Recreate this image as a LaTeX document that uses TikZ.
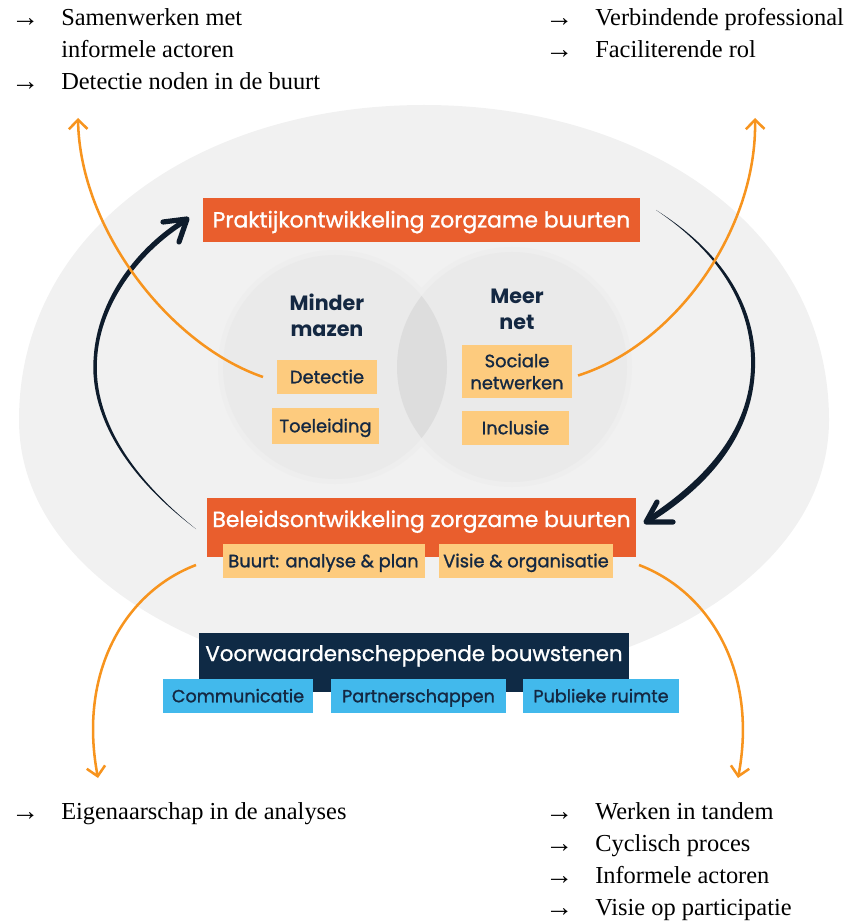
\documentclass[tikz,border=0pt]{standalone}
\usepackage{fontspec}
\setmainfont{Liberation Serif}
\newfontfamily\boxfont{Poppins}[BoldFont=Poppins, BoldFeatures={FakeBold=1.2}]
\newfontfamily\headfont{Poppins}
\usetikzlibrary{arrows.meta,calc}
\definecolor{cOrange}{HTML}{E95E2D}
\definecolor{cYellow}{HTML}{FDCB7E}
\definecolor{cBlue}{HTML}{42B9EC}
\definecolor{cNavy}{HTML}{0F2A45}
\definecolor{cText}{HTML}{142842}
\definecolor{cArrow}{HTML}{F7941E}
\definecolor{cBlack}{HTML}{0E1C2C}
\definecolor{cEll}{HTML}{F1F1F1}
\definecolor{cHalo}{HTML}{EEEEEE}
\definecolor{cCirc}{HTML}{EAEAEA}
\definecolor{cLens}{HTML}{DDDDDD}
\newdimen\px \px=0.75pt
\tikzset{
  obox/.style={fill=cOrange, text=white, inner sep=0pt, outer sep=0pt,
    font=\boxfont\bfseries\fontsize{16.4pt}{19pt}\selectfont},
  ybase/.style={fill=cYellow, text=cText, inner sep=0pt, outer sep=0pt, align=center,
    font=\boxfont\bfseries\fontsize{13.4pt}{16.5pt}\selectfont},
  ybox/.style={ybase, text height=9.4pt, text depth=0pt},
  bbox/.style={fill=cBlue, text=cText, inner sep=0pt, outer sep=0pt,
    font=\boxfont\bfseries\fontsize{13.2pt}{16pt}\selectfont, text height=9.4pt, text depth=0pt},
  head/.style={text=cText, inner sep=0pt, align=center,
    font=\headfont\bfseries\fontsize{15.5pt}{19.5pt}\selectfont},
  serif/.style={inner sep=0pt, anchor=base west, text=black,
    font=\fontsize{18.3pt}{24pt}\selectfont},
  bullet/.style={inner sep=0pt, anchor=base west, text=black,
    font=\fontsize{21pt}{24pt}\selectfont},
  oarrow/.style={draw=cArrow, line width=1.9pt,
    -{Straight Barb[length=7pt,width=14pt,line width=1.9pt]}},
  bhead/.style={draw=cBlack, line width=3.9pt, line cap=round, line join=round}
}
\begin{document}
\begin{tikzpicture}[x=0.75pt,y=-0.75pt]
\useasboundingbox (0,0) rectangle (848,923);
% big background shape
\fill[cEll] (19,420) .. controls (19,230) and (200,105) .. (424,105)
  .. controls (648,105) and (829,230) .. (829,420)
  .. controls (829,578.4) and (626.5,684) .. (424,684)
  .. controls (221.5,684) and (19,578.4) .. (19,420) -- cycle;
% two circles
\fill[cHalo] (335,367) circle (117);
\fill[cHalo] (512,367) circle (120);
\fill[cCirc] (335,367) circle (112);
\fill[cCirc] (512,367) circle (115);
\begin{scope}
  \clip (335,367) circle (112);
  \fill[cLens] (512,367) circle (115);
\end{scope}

% top box
\node[obox, minimum width=437\px, minimum height=44\px, text height=11.2pt, text depth=0pt]
  (praktijk) at (421.5,220) {Praktijkontwikkeling zorgzame buurten};

% circle headings
\node[head, anchor=north] (minder) at (327,294) {Minder\\mazen};
\node[head, anchor=north] (meer) at (517,289) {Meer\\net};

% yellow boxes in circles
\node[ybox, minimum width=100\px, minimum height=34\px] (detectie) at (327,377) {Detectie};
\node[ybox, minimum width=107\px, minimum height=36\px] (toeleiding) at (325.5,426) {Toeleiding};
\node[ybase, minimum width=110\px, minimum height=53\px] (sociale) at (517,371.5) {Sociale\\netwerken};
\node[ybox, minimum width=107\px, minimum height=34\px] (inclusie) at (515.5,428) {Inclusie};

% beleid box
\node[obox, anchor=north, minimum width=429\px, text height=29\px, text depth=30\px]
  (beleids) at (421.5,498) {Beleidsontwikkeling zorgzame buurten};
\node[ybox, minimum width=202\px, minimum height=34\px] (buurt) at (323.5,561) {Buurt: analyse \& plan};
\node[ybox, minimum width=174\px, minimum height=34\px] (visie) at (526,561) {Visie \& organisatie};

% voorwaarden
\node[obox, fill=cNavy, anchor=north, minimum width=430\px, text height=28\px, text depth=31\px,
  font=\boxfont\bfseries\fontsize{16pt}{19pt}\selectfont]
  (voorw) at (414,633) {Voorwaardenscheppende bouwstenen};
\node[bbox, minimum width=150\px, minimum height=34\px] (comm) at (238,696) {Communicatie};
\node[bbox, minimum width=175\px, minimum height=34\px] (partner) at (418.5,696) {Partnerschappen};
\node[bbox, minimum width=156\px, minimum height=34\px] (publiek) at (601,696) {Publieke ruimte};

% black cycle arrows (tapered)
\coordinate (tipL) at ($(praktijk.west)+(-16,-1)$);
\coordinate (tipR) at ($(beleids.east)+(10,-5.5)$);
\coordinate (startL) at ($(beleids.west)+(-11,1.5)$);
\coordinate (startR) at ($(praktijk.east)+(16,-10)$);
\fill[cBlack] (startL) .. controls (119,471) and (90.5,410) .. (93.5,360)
  .. controls (96.5,298) and (139,246) .. (183,219)
  -- (185.5,223.5) .. controls (141.5,251) and (100,302) .. (97,360)
  .. controls (94,410) and (121,469) .. (startL) -- cycle;
\draw[bhead] ($(tipL)+(-24,3)$) -- (tipL) -- ($(tipL)+(-8,23)$);
\fill[cBlack] (startR) .. controls (726,254) and (757,310) .. (755,368)
  .. controls (753,432) and (713,483) .. (651,522)
  -- (648,517) .. controls (709,477) and (749,428) .. (751,368)
  .. controls (753,311) and (724,256) .. (startR) -- cycle;
\draw[bhead] ($(tipR)+(11,-20)$) -- (tipR) -- ($(tipR)+(27,0)$);

% orange arrows
\coordinate (endTL) at (78,118);
\coordinate (endTR) at (755,118);
\coordinate (endBL) at (98,778);
\coordinate (endBR) at (738,778);
\draw[oarrow] ($(detectie.west)+(-14,0)$) .. controls (170,345) and (80,230) .. (endTL);
\draw[oarrow] ($(sociale.east)+(6,4)$) .. controls (675,345) and (757,230) .. (endTR);
\draw[oarrow] ($(beleids.south west)+(-11,8)$) .. controls (125,592) and (78,672) .. (endBL);
\draw[oarrow] ($(beleids.south east)+(3,8)$) .. controls (710,592) and (758,672) .. (endBR);

% text lists
\node[bullet] (a1) at (11,27) {→};
\node[serif] (t1) at (61,26) {Samenwerken met};
\node[serif] (t1b) at (61,58) {informele actoren};
\node[bullet] (a2) at (11,91) {→};
\node[serif] (t2) at (61,90) {Detectie noden in de buurt};

\node[bullet] (a3) at (545,27) {→};
\node[serif] (t3) at (595,26) {Verbindende professional};
\node[bullet] (a4) at (545,59) {→};
\node[serif] (t4) at (595,58) {Faciliterende rol};

\node[bullet] (a5) at (11,820) {→};
\node[serif] (t5) at (61,819) {Eigenaarschap in de analyses};

\node[bullet] (a6) at (545,820) {→};
\node[serif] (t6) at (595,819) {Werken in tandem};
\node[bullet] (a7) at (545,852) {→};
\node[serif] (t7) at (595,851) {Cyclisch proces};
\node[bullet] (a8) at (545,884) {→};
\node[serif] (t8) at (595,883) {Informele actoren};
\node[bullet] (a9) at (545,916) {→};
\node[serif] (t9) at (595,915) {Visie op participatie};
\end{tikzpicture}
\end{document}
